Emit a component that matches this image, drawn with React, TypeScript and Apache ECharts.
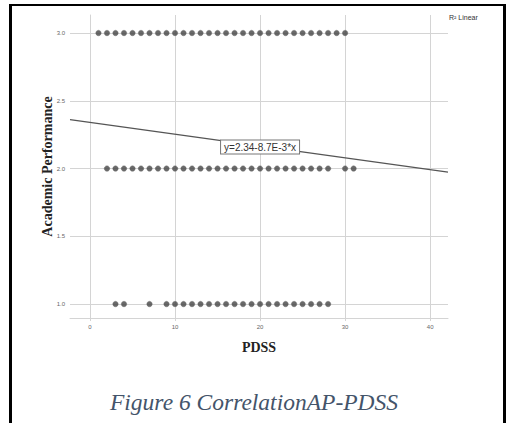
import React, { useEffect, useRef } from "react";
import * as echarts from "echarts";

// PDSS values observed at each Academic Performance level
const pdssAt3: number[] = [1,2,3,4,5,6,7,8,9,10,11,12,13,14,15,16,17,18,19,20,21,22,23,24,25,26,27,28,29,30];
const pdssAt2: number[] = [2,3,4,5,6,7,8,9,10,11,12,13,14,15,16,17,18,19,20,21,22,23,24,25,26,27,28,30,31];
const pdssAt1: number[] = [3,4,7,9,10,11,12,13,14,15,16,17,18,19,20,21,22,23,24,25,26,27,28];

const xTicks: number[] = [0, 10, 20, 30, 40];
const yTicks: number[] = [1.0, 1.5, 2.0, 2.5, 3.0];

const intercept = 2.34;
const slope = -0.0087;
const xRange: [number, number] = [-2.35, 42.1];
const yRange: [number, number] = [0.897, 3.133];

export default function App() {
  const ref = useRef<HTMLDivElement>(null);
  useEffect(() => {
    if (!ref.current) return;
    const chart = echarts.init(ref.current, null, { renderer: "svg" });
    const points: number[][] = [
      ...pdssAt3.map((x) => [x, 3.0]),
      ...pdssAt2.map((x) => [x, 2.0]),
      ...pdssAt1.map((x) => [x, 1.0]),
    ];
    const fit = xRange.map((x) => [x, intercept + slope * x]);
    const labelX = 20;
    const gridColor = "#d4d4d4";
    chart.setOption({
      animation: false,
      backgroundColor: "#ffffff",
      title: {
        text: "Figure 6 CorrelationAP-PDSS",
        left: "center",
        top: 385,
        textStyle: {
          fontFamily: "Liberation Serif",
          fontStyle: "italic",
          fontWeight: "normal",
          fontSize: 23.5,
          color: "#44546A",
        },
      },
      grid: { left: 70, right: 60, top: 15, bottom: 105 },
      xAxis: {
        type: "value",
        min: xRange[0],
        max: xRange[1],
        name: "PDSS",
        nameLocation: "middle",
        nameGap: 22,
        nameTextStyle: { fontFamily: "Liberation Serif", fontWeight: "bold", fontSize: 14, color: "#222" },
        axisLine: { show: true, lineStyle: { color: gridColor } },
        axisTick: { show: true, length: 3, customValues: xTicks, lineStyle: { color: gridColor } },
        axisLabel: { customValues: xTicks, fontSize: 6, color: "#666", margin: 6, fontFamily: "Liberation Sans" },
        splitLine: { show: true, lineStyle: { color: gridColor, width: 1 } },
      },
      yAxis: {
        type: "value",
        min: yRange[0],
        max: yRange[1],
        name: "Academic Performance",
        nameLocation: "middle",
        nameRotate: 90,
        nameGap: 16,
        nameMoveOverlap: false,
        nameTextStyle: { fontFamily: "Liberation Serif", fontWeight: "bold", fontSize: 14, color: "#222" },
        axisLine: { show: true, lineStyle: { color: gridColor } },
        axisTick: { show: true, length: 3, customValues: yTicks, lineStyle: { color: gridColor } },
        axisLabel: {
          customValues: yTicks,
          fontSize: 6,
          color: "#666",
          margin: 5,
          fontFamily: "Liberation Sans",
          formatter: (v: number) => v.toFixed(1),
        },
        splitLine: { show: true, lineStyle: { color: gridColor, width: 1 } },
      },
      graphic: [
        { type: "rect", shape: { x: 9, y: 4, width: 497, height: 2 }, style: { fill: "#000" } },
        { type: "rect", shape: { x: 9, y: 4, width: 3, height: 430 }, style: { fill: "#000" } },
        { type: "rect", shape: { x: 503, y: 4, width: 3, height: 430 }, style: { fill: "#000" } },
        {
          type: "text",
          x: 449,
          y: 17,
          style: { text: "R² Linear", fontSize: 7, fill: "#333", fontFamily: "Liberation Sans", verticalAlign: "middle" },
        },
      ],
      series: [
        {
          type: "scatter",
          data: points,
          symbol: "circle",
          symbolSize: 5.5,
          itemStyle: { color: "#444444", borderColor: "#6a6a6a", borderWidth: 0.5 },
          z: 3,
        },
        {
          type: "line",
          data: fit,
          symbol: "none",
          lineStyle: { color: "#555555", width: 1.2 },
          z: 2,
          markPoint: {
            symbol: "rect",
            symbolSize: 0,
            data: [{ coord: [labelX, intercept + slope * labelX] }],
            label: {
              show: true,
              position: "inside",
              formatter: "y=2.34-8.7E-3*x",
              fontSize: 10,
              fontFamily: "Liberation Sans",
              color: "#333",
              backgroundColor: "#ffffff",
              borderColor: "#777",
              borderWidth: 1,
              padding: [2, 3, 1, 3],
              offset: [0, 1],
            },
          },
        },
      ],
    });
    return () => chart.dispose();
  }, []);
  return (
    <div
      ref={ref}
      style={{ position: "fixed", left: 0, top: 0, width: 508, height: 423 }}
    />
  );
}
